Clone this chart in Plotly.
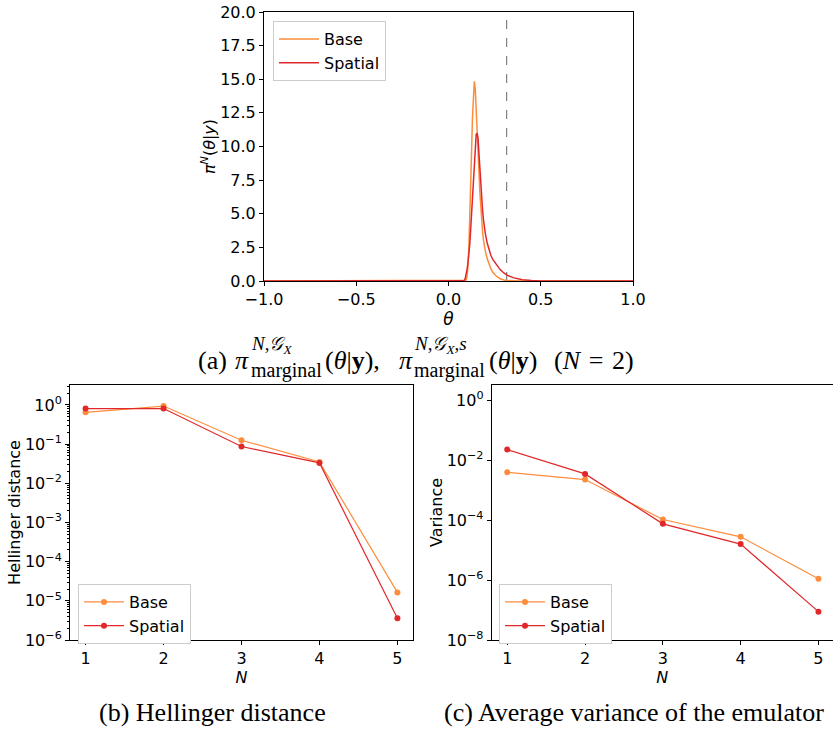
import plotly.graph_objects as go

# ---------------- data ----------------
theta = [-1.0, 0.080, 0.085, 0.090, 0.095, 0.100, 0.105, 0.110, 0.115, 0.120, 0.125,
         0.130, 0.135, 0.140, 0.145, 0.150, 0.155, 0.160, 0.165, 0.170, 0.175,
         0.180, 0.185, 0.190, 0.195, 0.200, 0.21, 0.22, 0.23, 0.24, 0.26, 0.28,
         0.30, 0.32, 0.35, 0.40, 0.45, 0.50, 1.0]
post_base = [0.0, 0.0, 0.0, 0.0, 0.05, 0.3, 1.0, 2.3, 4.3, 6.8, 9.6,
             12.2, 14.0, 14.85, 14.3, 13.0, 11.6, 10.0, 8.2, 6.6, 5.3,
             4.3, 3.6, 3.0, 2.55, 2.2, 1.65, 1.2, 0.9, 0.65, 0.35, 0.17,
             0.07, 0.03, 0.01, 0.0, 0.0, 0.0, 0.0]
post_spatial = [0.0, 0.0, 0.03, 0.15, 0.4, 0.8, 1.3, 1.9, 2.7, 3.8, 5.0,
                6.4, 7.8, 9.1, 10.2, 10.9, 11.0, 10.6, 9.5, 8.2, 7.0,
                6.0, 5.2, 4.5, 3.95, 3.5, 2.8, 2.3, 1.9, 1.6, 1.2, 0.85,
                0.6, 0.42, 0.25, 0.1, 0.03, 0.0, 0.0]
theta_true = 0.315

N_vals = [1, 2, 3, 4, 5]
hell_base = [0.65, 0.94, 0.126, 0.0352, 1.64e-5]
hell_spatial = [0.81, 0.81, 0.087, 0.0332, 3.57e-6]
var_base = [3.9e-3, 2.23e-3, 1.04e-4, 2.75e-5, 1.1e-6]
var_spatial = [2.22e-2, 3.44e-3, 7.45e-5, 1.57e-5, 8.8e-8]

hell_tickvals = [1e-6, 1e-5, 1e-4, 1e-3, 1e-2, 1e-1, 1e0]
hell_ticktext = ["10<sup>−6</sup>", "10<sup>−5</sup>", "10<sup>−4</sup>", "10<sup>−3</sup>",
                 "10<sup>−2</sup>", "10<sup>−1</sup>", "10<sup>0</sup>"]
var_tickvals = [1e-8, 1e-6, 1e-4, 1e-2, 1e0]
var_ticktext = ["10<sup>−8</sup>", "10<sup>−6</sup>", "10<sup>−4</sup>", "10<sup>−2</sup>", "10<sup>0</sup>"]

C_BASE = "#fd8d3c"
C_SPATIAL = "#e0282a"
W, H = 833, 732
FONT = "DejaVu Sans"
SERIF = "Liberation Serif"
TICK = 16

fig = go.Figure()

# top panel
fig.add_trace(go.Scatter(x=theta, y=post_base, mode="lines", name="Base",
                         line=dict(color=C_BASE, width=1.5), xaxis="x", yaxis="y",
                         legend="legend", legendgroup="a1"))
fig.add_trace(go.Scatter(x=theta, y=post_spatial, mode="lines", name="Spatial",
                         line=dict(color=C_SPATIAL, width=1.5), xaxis="x", yaxis="y",
                         legend="legend", legendgroup="a2"))
# bottom left
fig.add_trace(go.Scatter(x=N_vals, y=hell_base, mode="lines+markers", name="Base",
                         line=dict(color=C_BASE, width=1.2), marker=dict(size=6, color=C_BASE),
                         xaxis="x2", yaxis="y2", legend="legend2", legendgroup="b1"))
fig.add_trace(go.Scatter(x=N_vals, y=hell_spatial, mode="lines+markers", name="Spatial",
                         line=dict(color=C_SPATIAL, width=1.2), marker=dict(size=6, color=C_SPATIAL),
                         xaxis="x2", yaxis="y2", legend="legend2", legendgroup="b2"))
# bottom right
fig.add_trace(go.Scatter(x=N_vals, y=var_base, mode="lines+markers", name="Base",
                         line=dict(color=C_BASE, width=1.2), marker=dict(size=6, color=C_BASE),
                         xaxis="x3", yaxis="y3", legend="legend3", legendgroup="c1"))
fig.add_trace(go.Scatter(x=N_vals, y=var_spatial, mode="lines+markers", name="Spatial",
                         line=dict(color=C_SPATIAL, width=1.2), marker=dict(size=6, color=C_SPATIAL),
                         xaxis="x3", yaxis="y3", legend="legend3", legendgroup="c2"))

fig.add_shape(type="line", xref="x", yref="y domain", x0=theta_true, x1=theta_true, y0=0, y1=1,
              line=dict(color="#808080", width=1.2, dash="dash"), layer="below")


def px(x):
    return x / W


def py(y):
    return 1 - y / H


ax_common = dict(showline=True, linecolor="black", linewidth=1, ticks="outside", ticklen=4,
                 tickwidth=1, tickcolor="black", showgrid=False, zeroline=False, automargin=False,
                 tickfont=dict(family=FONT, size=TICK, color="black"))

minor_vals = [m * 10 ** k for k in range(-6, 1) for m in range(2, 10)]

legend_common = dict(bgcolor="white", bordercolor="#cccccc", borderwidth=1,
                     font=dict(family=FONT, size=16, color="black"),
                     xanchor="left", yanchor="top", tracegroupgap=0, itemwidth=40)

fig.update_layout(
    width=W, height=H, margin=dict(l=0, r=0, t=0, b=0, autoexpand=False),
    paper_bgcolor="white", plot_bgcolor="white",
    font=dict(family=FONT, size=TICK, color="black"),
    xaxis=dict(domain=[px(264), px(633)], range=[-1, 1], anchor="y", mirror=True,
               tickvals=[-1, -0.5, 0, 0.5, 1], tickformat=".1f",
               title=dict(text="<i>θ</i>", standoff=2, font=dict(family=FONT, size=17)), **ax_common),
    yaxis=dict(domain=[py(281), py(12)], range=[0, 20], anchor="x", mirror=True,
               tickvals=[0, 2.5, 5, 7.5, 10, 12.5, 15, 17.5, 20], tickformat=".1f",
               title=dict(text="<i>π</i><sup><i>N</i></sup>(<i>θ</i>|<i>y</i>)", standoff=0,
                          font=dict(family=FONT, size=16)), **ax_common),
    xaxis2=dict(domain=[px(70), px(413)], range=[0.8, 5.2], anchor="y2", mirror=True,
                tickvals=N_vals,
                title=dict(text="<i>N</i>", standoff=2, font=dict(family=FONT, size=16)), **ax_common),
    yaxis2=dict(domain=[py(640), py(385)], type="log", range=[-6, 0.51], anchor="x2", mirror=True,
                tickvals=hell_tickvals, ticktext=hell_ticktext,
                minor=dict(ticks="outside", ticklen=2, tickcolor="black", tickvals=minor_vals),
                title=dict(text="Hellinger distance", standoff=0, font=dict(family=FONT, size=16)),
                **ax_common),
    xaxis3=dict(domain=[px(491.7), 1.0], range=[0.8, 5.187], anchor="y3", mirror=True,
                tickvals=N_vals,
                title=dict(text="<i>N</i>", standoff=2, font=dict(family=FONT, size=16)), **ax_common),
    yaxis3=dict(domain=[py(640), py(385)], type="log", range=[-8, 0.5], anchor="x3", mirror=False,
                tickvals=var_tickvals, ticktext=var_ticktext,
                title=dict(text="Variance", standoff=0, font=dict(family=FONT, size=16)), **ax_common),
    legend=dict(x=px(273), y=py(21), **legend_common),
    legend2=dict(x=px(78), y=py(584), **legend_common),
    legend3=dict(x=px(499), y=py(584), **legend_common),
)

# ---------------- captions ----------------
CAP = 26
SUP = 19
SUB = 20


def cap(text, x, y, size=CAP, anchor="left"):
    fig.add_annotation(text=text, x=px(x), y=py(y), xref="paper", yref="paper",
                       xanchor=anchor, yanchor="middle", showarrow=False,
                       font=dict(family=SERIF, size=size, color="black"))


cap("(a)", 196, 360)
cap("<i>π</i>", 233, 360)
cap("<i>N</i>,<i>𝒢</i><sub><i>X</i></sub>", 249, 345, SUP)
cap("marginal", 249, 370, SUB)
cap("(<i>θ</i>|<b>y</b>),", 323, 360)
cap("<i>π</i>", 397, 360)
cap("<i>N</i>,<i>𝒢</i><sub><i>X</i></sub>,<i>s</i>", 412, 345, SUP)
cap("marginal", 412, 370, SUB)
cap("(<i>θ</i>|<b>y</b>)", 487, 360)
cap("(<i>N</i>&#8196;=&#8196;2)", 552, 360)

cap("(b) Hellinger distance", 212, 712, anchor="center")
cap("(c) Average variance of the emulator", 634, 712, anchor="center")

fig.write_html("out.html", config={"displayModeBar": False},
               post_script="document.body.style.margin='0px';")
